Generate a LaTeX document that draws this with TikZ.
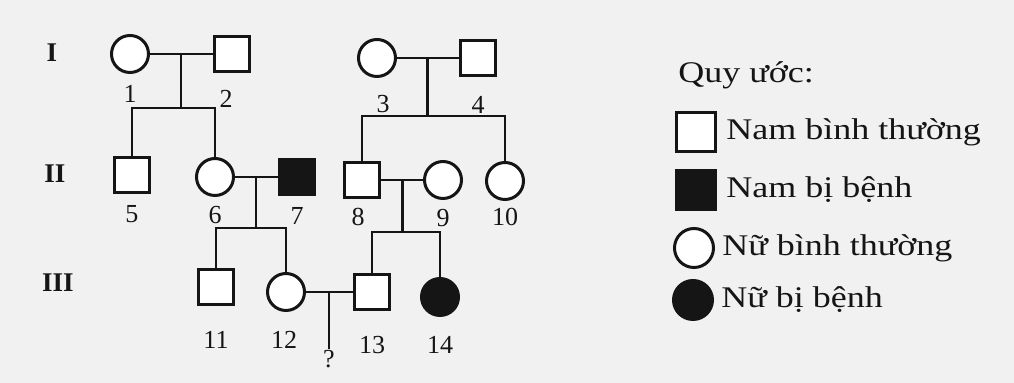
\documentclass[tikz,border=0pt]{standalone}
\usepackage{fontspec}
\setmainfont{Liberation Serif}
\newfontfamily\legendfont{Liberation Serif}[FakeStretch=1.2]
\usetikzlibrary{positioning,calc}
\definecolor{PedInk}{HTML}{151515}
\definecolor{PedPaper}{HTML}{F1F1F1}
\tikzset{
  every path/.style={draw=PedInk,line width=1.3pt},
  male/.style={draw,rectangle,minimum size=17.5pt,inner sep=0pt,line width=1.5pt,fill=white},
  female/.style={draw,circle,minimum size=18.5pt,inner sep=0pt,line width=1.5pt,fill=white},
  sick/.style={fill=PedInk},
  lgd/.style={minimum size=19.5pt},
  numlabel/.style={font=\fontsize{13}{13}\selectfont,text=PedInk,inner sep=0pt},
  genlabel/.style={font=\fontsize{13.5}{13.5}\selectfont\bfseries,text=PedInk,inner sep=0pt},
  lgdtext/.style={font=\fontsize{15}{15}\selectfont\legendfont,text=PedInk,inner sep=0pt}
}

\begin{document}
\begin{tikzpicture}[x=0.5pt,y=-0.5pt]
  \path[fill=PedPaper,draw=none,use as bounding box] (0,0) rectangle (1014,383);

  % generation labels
  \node[genlabel] (gI) at (52,53) {I};
  \node[genlabel] (gII) at (55,174) {II};
  \node[genlabel] (gIII) at (58,283) {III};

  % generation I
  \node[female] (p1) at (130,54) {};
  \node[male] (p2) at (232,54) {};
  \node[female] (p3) at (377,58) {};
  \node[male] (p4) at (478,58) {};
  \node[numlabel,below=5pt of p1] (l1) {1};
  \node[numlabel,below=8pt of p2,xshift=-3pt] (l2) {2};
  \node[numlabel,below=8pt of p3,xshift=3pt] (l3) {3};
  \node[numlabel,below=9pt of p4] (l4) {4};

  % generation II
  \node[male] (p5) at (132,175) {};
  \node[female] (p6) at (215,177) {};
  \node[male,sick] (p7) at (297,177) {};
  \node[male] (p8) at (362,180) {};
  \node[female] (p9) at (443,180) {};
  \node[female] (p10) at (505,181) {};
  \node[numlabel,below=5pt of p5] (l5) {5};
  \node[numlabel,below=4pt of p6] (l6) {6};
  \node[numlabel,below=5pt of p7] (l7) {7};
  \node[numlabel,below=4pt of p8,xshift=-2pt] (l8) {8};
  \node[numlabel,below=4pt of p9] (l9) {9};
  \node[numlabel,below=3pt of p10] (l10) {10};

  % generation III
  \node[male] (p11) at (216,287) {};
  \node[female] (p12) at (286,292) {};
  \node[male] (p13) at (372,292) {};
  \node[female,sick] (p14) at (440,297) {};
  \node[numlabel,below=12pt of p11] (l11) {11};
  \node[numlabel,below=9pt of p12,xshift=-1pt] (l12) {12};
  \node[numlabel,below=12pt of p13] (l13) {13};
  \node[numlabel,below=9pt of p14] (l14) {14};
  \node[numlabel] (q) at (329,359) {?};

  % couples and their children
  \coordinate (c12) at ($(p1)!0.5!(p2)$);
  \coordinate (s12) at ($(c12)+(0,54)$);
  \draw (p1) -- (p2);
  \draw (c12) -- (s12);
  \draw (p5.north) |- (s12) -| (p6.north);

  \coordinate (c34) at ($(p3)!0.5!(p4)$);
  \coordinate (s34) at ($(c34)+(0,58)$);
  \draw (p3) -- (p4);
  \draw (c34) -- (s34);
  \draw (p8.north) |- (s34) -| (p10.north);

  \coordinate (c67) at ($(p6)!0.5!(p7)$);
  \coordinate (s67) at ($(c67)+(0,51)$);
  \draw (p6) -- (p7);
  \draw (c67) -- (s67);
  \draw (p11.north) |- (s67) -| (p12.north);

  \coordinate (c89) at ($(p8)!0.5!(p9)$);
  \coordinate (s89) at ($(c89)+(0,52)$);
  \draw (p8) -- (p9);
  \draw (c89) -- (s89);
  \draw (p13.north) |- (s89) -| (p14.north);

  \coordinate (c1213) at ($(p12)!0.5!(p13)$);
  \draw (p12) -- (p13);
  \draw (c1213) -- (q.north);

  % legend
  \node[lgdtext,anchor=base west] (lgtitle) at (677,83) {Quy ước:};
  \node[male,lgd] (lg1) at (696,132) {};
  \node[male,lgd,sick] (lg2) at (696,190) {};
  \node[female,lgd] (lg3) at (694,248) {};
  \node[female,lgd,sick] (lg4) at (693,300) {};
  \node[lgdtext,right=4pt of lg1] (lt1) {Nam bình thường};
  \node[lgdtext,right=4pt of lg2] (lt2) {Nam bị bệnh};
  \node[lgdtext,right=3pt of lg3] (lt3) {Nữ bình thường};
  \node[lgdtext,right=3pt of lg4] (lt4) {Nữ bị bệnh};
\end{tikzpicture}
\end{document}
